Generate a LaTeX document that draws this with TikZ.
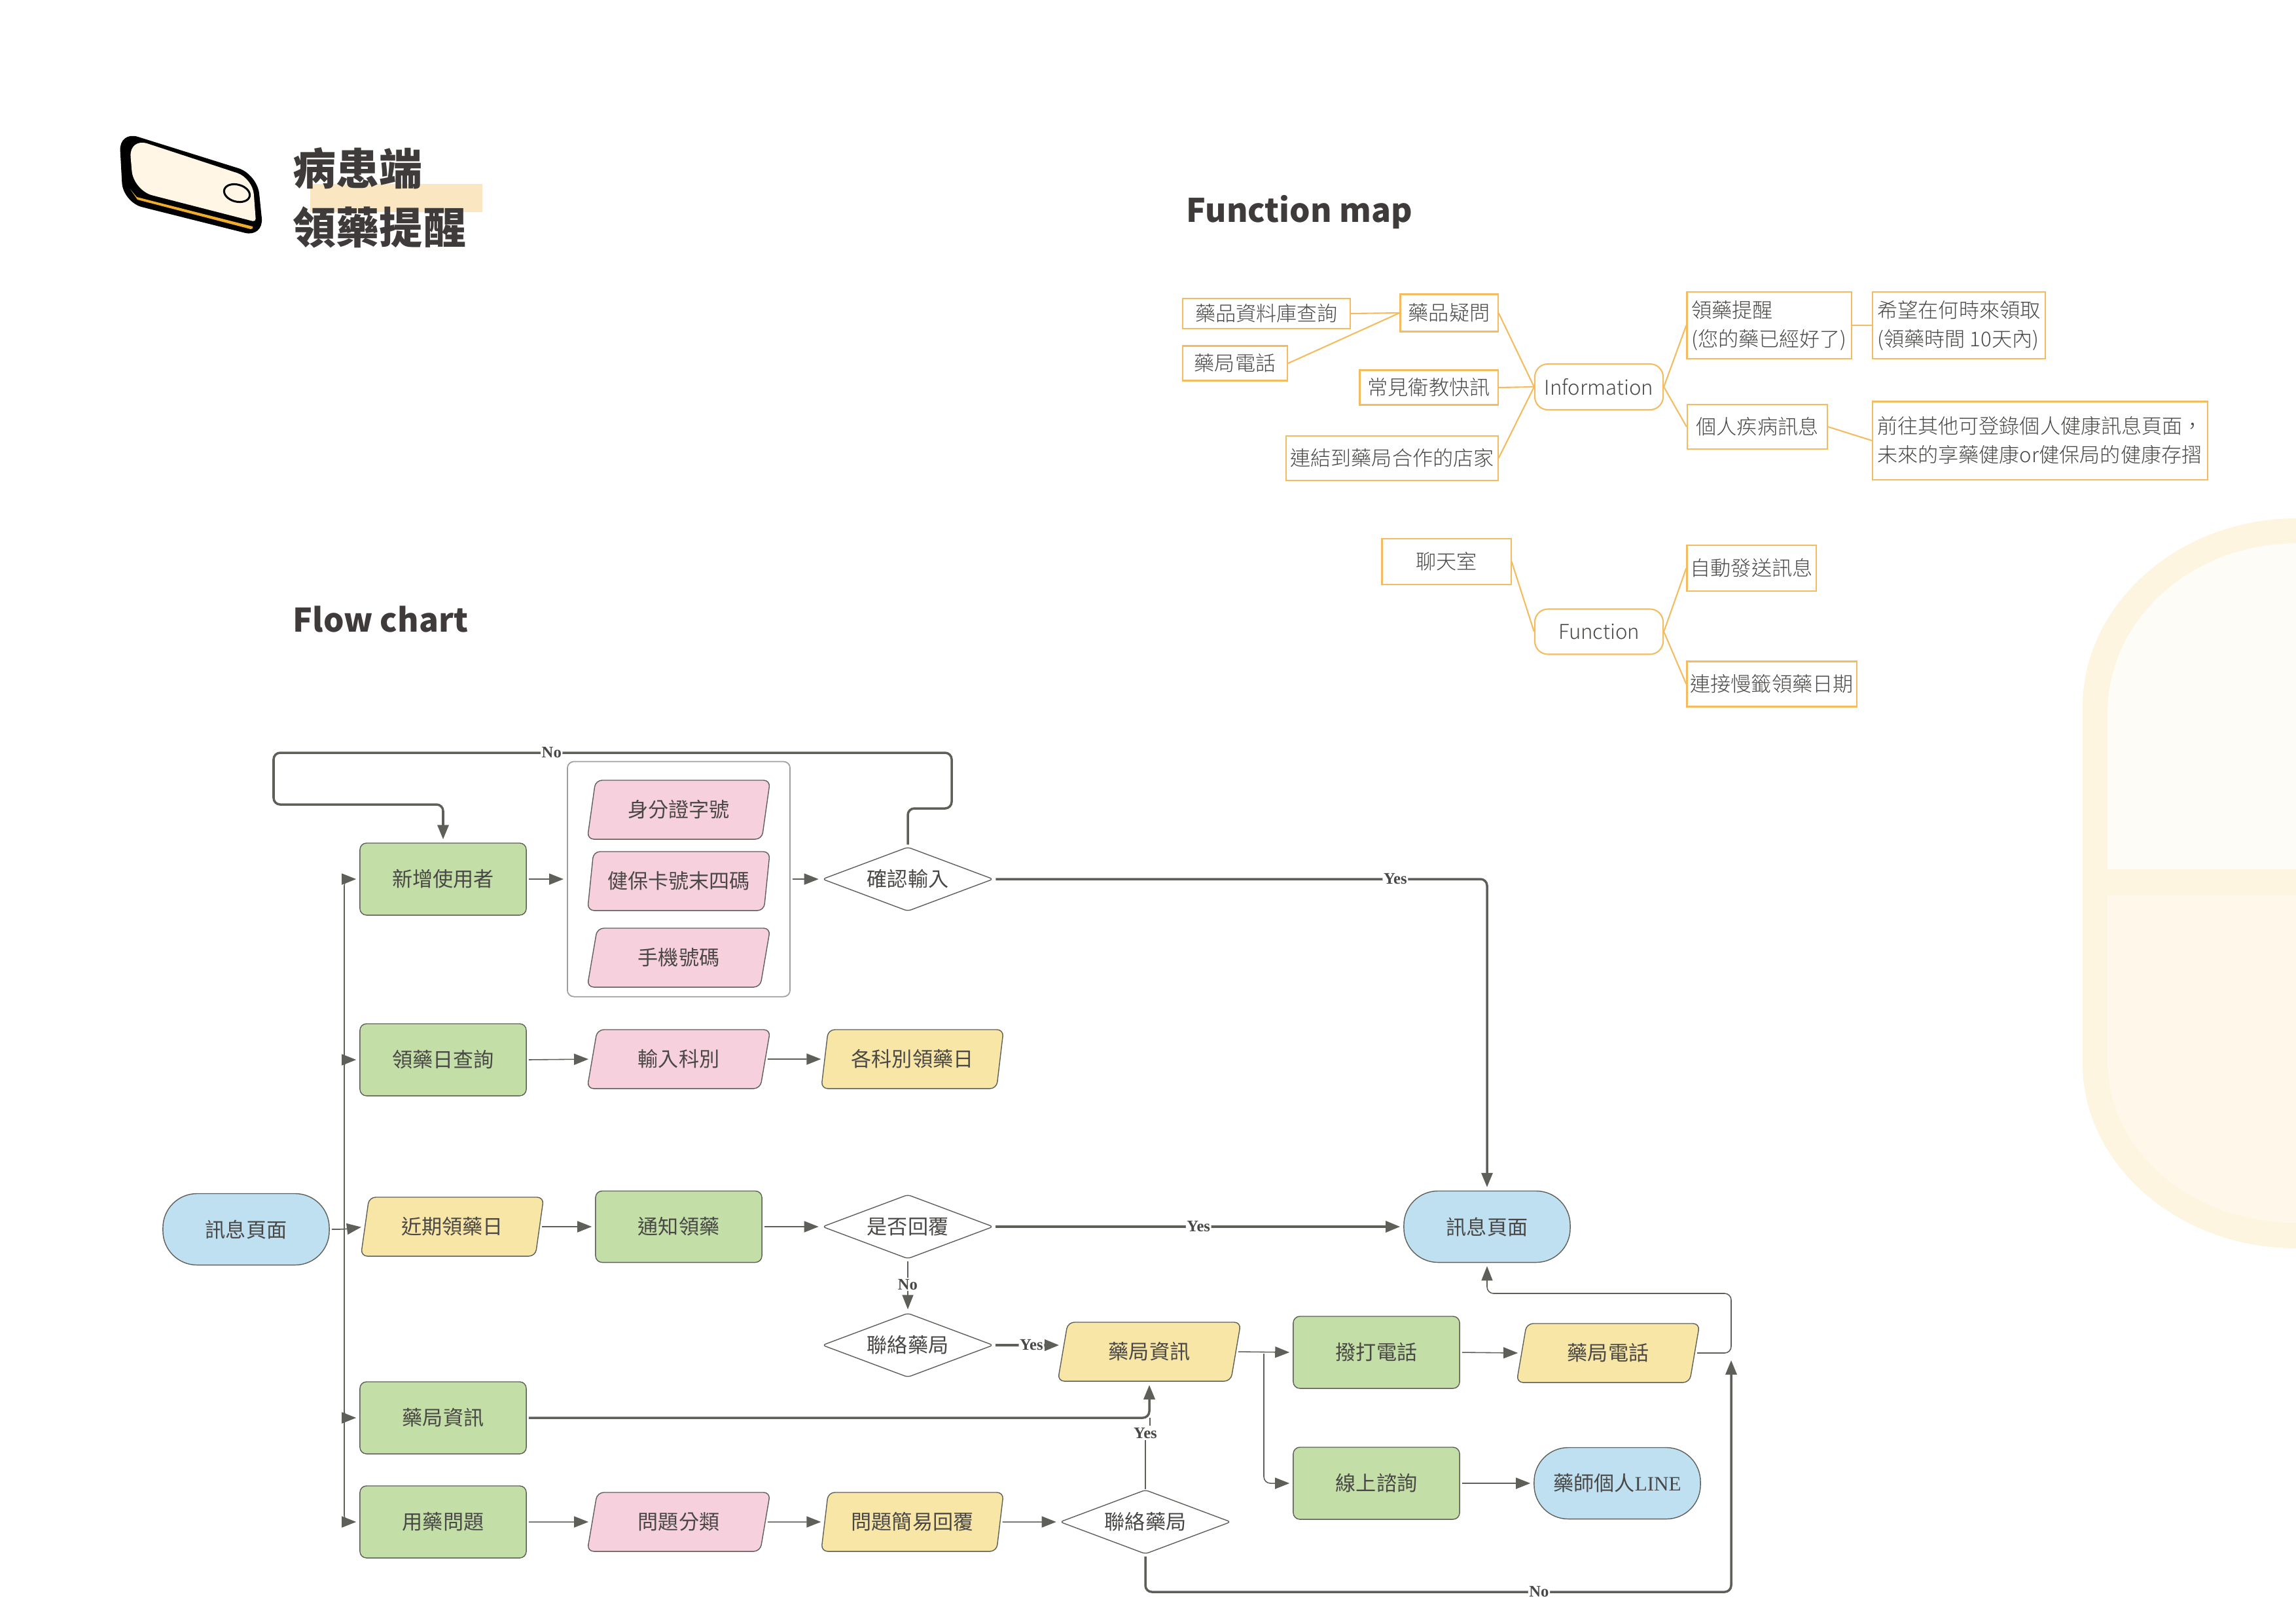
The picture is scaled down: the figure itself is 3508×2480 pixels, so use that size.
\documentclass[tikz,border=0pt]{standalone}
\usepackage{fontspec}
\setmainfont{Noto Sans CJK TC}
\newfontfamily\thinfont{Noto Sans CJK TC Light}
\newfontfamily\labelfont{Liberation Serif}
\usetikzlibrary{arrows.meta,shapes.geometric}
\definecolor{inkgray}{HTML}{4A4846}
\definecolor{titlegray}{HTML}{3F3B3A}
\definecolor{linegray}{HTML}{5F5F5A}
\definecolor{mapline}{HTML}{F4BC60}
\definecolor{stepgreen}{HTML}{C3DFA7}
\definecolor{endblue}{HTML}{BFE0F1}
\definecolor{inputpink}{HTML}{F6D0DC}
\definecolor{outputyellow}{HTML}{F8E6A6}
\definecolor{pillouter}{HTML}{FEF5E0}
\definecolor{pilltop}{HTML}{FEFCF7}
\definecolor{pillbottom}{HTML}{FEF7EA}
\definecolor{phonecream}{HTML}{FFF6E6}
\definecolor{phonestrip}{HTML}{F0AD2D}
\definecolor{titlemark}{HTML}{FAE6C0}
\tikzset{
    flowtext/.style={font=\fontsize{8.85}{11}\selectfont, text=inkgray, inner sep=0pt},
    stepbox/.style={flowtext, draw=linegray, line width=.4pt, fill=stepgreen, rounded corners=.1cm, minimum width=2.54cm, minimum height=1.1cm},
    endbox/.style={flowtext, draw=linegray, line width=.4pt, fill=endblue, rounded corners=.52cm, minimum width=2.54cm, minimum height=1.09cm},
    para/.style={flowtext, draw=linegray, line width=.4pt, trapezium, trapezium left angle=75, trapezium right angle=105, trapezium stretches=true, rounded corners=.1cm, minimum width=2.8cm, minimum height=.9cm},
    inputbox/.style={para, fill=inputpink},
    outputbox/.style={para, fill=outputyellow},
    choice/.style={flowtext, draw=linegray, line width=.4pt, fill=white, diamond, aspect=2.66, rounded corners=.05cm, minimum width=2.61cm, minimum height=.98cm},
    link/.style={-{Triangle[length=.22cm,width=.17cm]}, draw=linegray, line width=.45pt, rounded corners=.1cm, shorten >=.05cm, shorten <=.03cm},
    linkbold/.style={link, line width=1pt},
    lab/.style={font=\labelfont\bfseries\fontsize{7}{8}\selectfont, text=inkgray, fill=white, inner sep=.5pt},
    mapbox/.style={font=\thinfont\fontsize{8.85}{12.5}\selectfont, text=inkgray, draw=mapline, line width=.6pt, inner sep=0pt, align=left},
    maproot/.style={mapbox, rounded corners=.2cm},
    maplink/.style={draw=mapline, line width=.6pt},
    bigtitle/.style={font=\bfseries\fontsize{14.1}{17}\selectfont, text=titlegray, inner sep=0pt, anchor=west}
}
\begin{document}
\begin{tikzpicture}[x=.01cm, y=-.01cm]
    \useasboundingbox (0,0) rectangle (3508,2480);

    % Capsule in the background
    \fill[pillouter] (3508,792) .. controls (3329,792) and (3182,922) .. (3182,1080) -- (3182,1625) .. controls (3182,1780) and (3329,1907) .. (3508,1907) -- cycle;
    \fill[pilltop] (3508,830) .. controls (3350,830) and (3220,945) .. (3220,1090) -- (3220,1328) -- (3508,1328) -- cycle;
    \fill[pillbottom] (3508,1868) .. controls (3350,1868) and (3220,1760) .. (3220,1620) -- (3220,1368) -- (3508,1368) -- cycle;

    % Phone icon
    \fill[black, rounded corners=.3cm] (182,200) -- (393,266) -- (403,363) -- (188,309) -- cycle;
    \fill[phonecream] [rounded corners=.05cm] (197,210) [rounded corners=.25cm] -- (386,272) [rounded corners=.05cm] -- (391,339) [rounded corners=.3cm] -- (204,291) -- cycle;
    \fill[phonestrip] (199,289) -- (209,301) -- (386,346) -- (386,349) -- (383,350) -- (210,305) -- cycle;
    \draw[line width=.03cm, rotate around={-15:(362,295)}] (362,295) ellipse (20 and 13);

    % Titles
    \fill[titlemark] (474,281) rectangle (737,324);
    \node[font=\bfseries\fontsize{18.8}{25.6}\selectfont, text=titlegray, inner sep=0pt, anchor=west, align=left] (pagetitle) at (447,302) {病患端\\領藥提醒};
    \node[bigtitle] (maptitle) at (1812,324) {Function map};
    \node[bigtitle] (flowtitle) at (447,946) {Flow chart};

    % Function map
    \node[mapbox, minimum width=2.56cm, minimum height=.46cm] (drugdb) at (1935,479) {藥品資料庫查詢};
    \node[mapbox, minimum width=1.6cm, minimum height=.53cm] (pharmtel) at (1887,555) {藥局電話};
    \node[mapbox, minimum width=1.49cm, minimum height=.57cm] (drugq) at (2214,478) {藥品疑問};
    \node[mapbox, minimum width=2.11cm, minimum height=.53cm] (edunews) at (2183,592) {常見衛教快訊};
    \node[mapbox, minimum width=3.23cm, minimum height=.68cm] (partner) at (2127,700) {連結到藥局合作的店家};
    \node[maproot, minimum width=1.96cm, minimum height=.7cm] (info) at (2443,591) {Information};
    \node[mapbox, minimum width=2.51cm, minimum height=1.02cm] (remind) at (2703,497) {領藥提醒\\(您的藥已經好了)};
    \node[mapbox, minimum width=2.64cm, minimum height=1.02cm] (when) at (2993,497) {希望在何時來領取\\(領藥時間 10天內)};
    \node[mapbox, minimum width=2.14cm, minimum height=.68cm] (illness) at (2685,652) {個人疾病訊息};
    \node[mapbox, minimum width=5.12cm, minimum height=1.19cm] (record) at (3117,673) {前往其他可登錄個人健康訊息頁面，\\未來的享藥健康or健保局的健康存摺};
    \node[mapbox, minimum width=1.97cm, minimum height=.7cm] (chat) at (2210,858) {聊天室};
    \node[maproot, minimum width=1.96cm, minimum height=.69cm] (func) at (2443,965) {Function};
    \node[mapbox, minimum width=1.97cm, minimum height=.7cm] (automsg) at (2676,868) {自動發送訊息};
    \node[mapbox, minimum width=2.59cm, minimum height=.69cm] (refill) at (2707,1045) {連接慢籤領藥日期};
    \foreach \from/\to in {drugdb/drugq, pharmtel/drugq, drugq/info, edunews/info, partner/info, info/remind, info/illness, remind/when, illness/record, chat/func, func/automsg, func/refill}
        \draw[maplink] (\from.east) -- (\to.west);

    % Flow chart, first column
    \node[endbox] (msgleft) at (376,1878) {訊息頁面};
    \node[stepbox] (newuser) at (677,1343) {新增使用者};
    \node[stepbox] (datequery) at (677,1619) {領藥日查詢};
    \node[outputbox] (nearday) at (691,1874) {近期領藥日};
    \node[stepbox] (pharminfo) at (677,2166) {藥局資訊};
    \node[stepbox] (medq) at (677,2325) {用藥問題};

    % Flow chart, input group
    \node[draw=linegray!60, line width=.5pt, rounded corners=.1cm, minimum width=3.4cm, minimum height=3.59cm] (inputgroup) at (1037,1343) {};
    \node[inputbox] (idno) at (1037,1237) {身分證字號};
    \node[inputbox] (cardno) at (1037,1346) {健保卡號末四碼};
    \node[inputbox] (mobile) at (1037,1463) {手機號碼};
    \node[choice] (confirm) at (1387,1343) {確認輸入};

    % Flow chart, other rows
    \node[inputbox] (dept) at (1037,1618) {輸入科別};
    \node[outputbox] (deptday) at (1394,1618) {各科別領藥日};
    \node[stepbox, minimum height=1.09cm] (notify) at (1037,1874) {通知領藥};
    \node[choice] (reply) at (1387,1874) {是否回覆};
    \node[choice] (contact) at (1387,2055) {聯絡藥局};
    \node[inputbox] (sort) at (1037,2325) {問題分類};
    \node[outputbox] (simple) at (1394,2325) {問題簡易回覆};
    \node[choice] (contacttwo) at (1750,2325) {聯絡藥局};
    \node[outputbox] (pharmdata) at (1756,2065) {藥局資訊};
    \node[stepbox] (call) at (2103,2066) {撥打電話};
    \node[outputbox] (phone) at (2457,2067) {藥局電話};
    \node[stepbox] (online) at (2103,2266) {線上諮詢};
    \node[endbox] (personal) at (2471,2266) {藥師個人{\labelfont LINE}};
    \node[endbox] (msgright) at (2272,1874) {訊息頁面};

    % Free ends of connectors
    \coordinate (busjoin) at (526,1878);
    \coordinate (loopa) at (1454,1235);
    \coordinate (loopb) at (1454,1150);
    \coordinate (loopc) at (418,1150);
    \coordinate (loopd) at (418,1229);
    \coordinate (split) at (1931,2065);
    \coordinate (backturn) at (2645,1976);
    \coordinate (yesbend) at (1750,2190);
    \coordinate (yesgap) at (1757,2178);
    \coordinate (yesjoin) at (1757,2166);
    \coordinate (nocorner) at (2645,2432);
    \coordinate (notip) at (2645,2073);

    % Connectors
    \draw[link] (msgleft.east) -- (busjoin) -- (nearday.west);
    \foreach \target in {newuser, datequery, pharminfo, medq}
        \draw[link, shorten <=0pt] (busjoin) |- (\target.west);

    \draw[link] (newuser.east) -- (inputgroup.west |- newuser.east);
    \draw[link] (inputgroup.east |- confirm.west) -- (confirm.west);
    \draw[linkbold] (confirm.north) |- (loopa) -- (loopb) -- node[lab, pos=.59] (noloop) {No} (loopc) -- (loopd) -| (newuser.north);
    \draw[linkbold] (confirm.east) -| node[lab, pos=.407] (yesconfirm) {Yes} (msgright.north);

    \draw[link] (datequery.east) -- (dept.west);
    \draw[link] (dept.east) -- (deptday.west);

    \draw[link] (nearday.east) -- (notify.west);
    \draw[link] (notify.east) -- (reply.west);
    \draw[linkbold] (reply.east) -- node[lab] (yesreply) {Yes} (msgright.west);
    \draw[link] (reply.south) -- node[lab, pos=.47] (noreply) {No} (contact.north);
    \draw[linkbold] (contact.east) -- node[lab, pos=.55] (yescontact) {Yes} (contact.east -| pharmdata.west);

    \draw[linkbold] (pharminfo.east) -| (pharmdata.south);
    \draw[link] (pharmdata.east) -- (call.west);
    \draw[link] (split) |- (online.west);
    \draw[link] (call.east) -- (phone.west);
    \draw[link] (online.east) -- (personal.west);
    \draw[link] (phone.east) -| (backturn) -| (msgright.south);

    \draw[link] (medq.east) -- (sort.west);
    \draw[link] (sort.east) -- (simple.west);
    \draw[link] (simple.east) -- (contacttwo.west);
    \draw[draw=linegray, line width=.7pt] (contacttwo.north) -- (yesbend);
    \draw[draw=linegray, line width=.7pt] (yesgap) -- (yesjoin);
    \node[lab] (yestwo) at (yesbend) {Yes};
    \draw[linkbold] (contacttwo.south) |- node[lab, pos=.836] (notwo) {No} (nocorner) -- (notip);
\end{tikzpicture}
\end{document}
